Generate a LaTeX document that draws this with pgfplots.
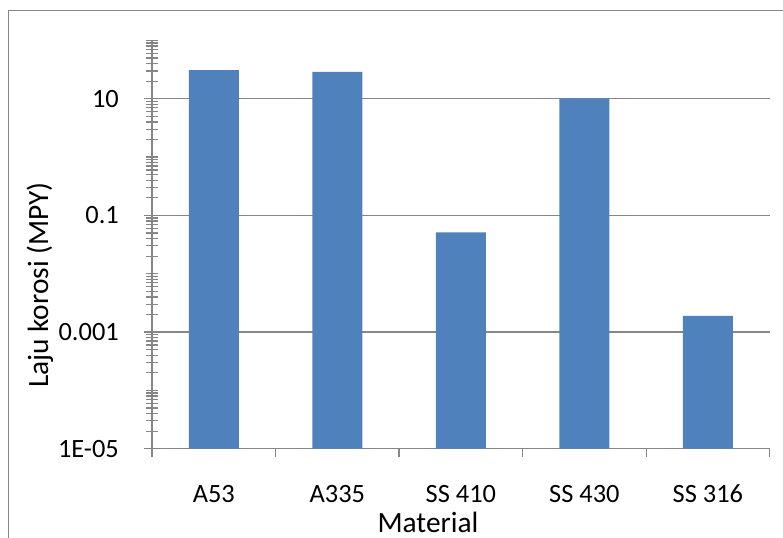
\documentclass[border=0pt]{standalone}
\usepackage{fontspec}
\setmainfont{Carlito}
\usepackage{pgfplots}
\pgfplotsset{compat=1.18}
\definecolor{barblue}{RGB}{79,129,189}
\definecolor{linegray}{RGB}{134,134,134}
\begin{document}
\begin{tikzpicture}
\path[use as bounding box] (0,0) rectangle (783bp,538bp);
\begin{scope}
\clip (0,0) rectangle (783bp,538bp);
\draw[linegray, line width=1.3bp] (8.3bp,-20bp) -- (8.3bp,527.3bp) -- (800bp,527.3bp);
\begin{axis}[
  at={(152bp,89.3bp)}, anchor=south west,
  scale only axis, width=617.7bp, height=408.3bp,
  ymode=log, log origin=infty,
  ymin=1e-5, ymax=100,
  xmin=0, xmax=5,
  axis lines*=left,
  axis line style={linegray, line width=1.2bp},
  ybar, bar width=50bp,
  xtick={0,1,2,3,4,5},
  xticklabels={A53,A335,SS 410,SS 430,SS 316,},
  xticklabel style={anchor=base, inner sep=0pt, xshift=61.77bp, yshift=-46.3bp, font=\fontsize{26.5}{30}\selectfont},
  ytick={1e-5,1e-3,0.1,10},
  yticklabels={1E-05,0.001,0.1,10},
  yticklabel style={anchor=east, inner sep=0pt, xshift=-25bp, font=\fontsize{26.5}{30}\selectfont},
  minor ytick={2e-5,3e-5,4e-5,5e-5,6e-5,7e-5,8e-5,9e-5,1e-4,2e-4,3e-4,4e-4,5e-4,6e-4,7e-4,8e-4,9e-4,2e-3,3e-3,4e-3,5e-3,6e-3,7e-3,8e-3,9e-3,1e-2,2e-2,3e-2,4e-2,5e-2,6e-2,7e-2,8e-2,9e-2,0.2,0.3,0.4,0.5,0.6,0.7,0.8,0.9,1,2,3,4,5,6,7,8,9,20,30,40,50,60,70,80,90,100},
  tick align=outside,
  major tick length=8bp, minor tick length=12bp,
  every minor y tick/.append style={xshift=6bp},
  tick style={linegray, line width=1.2bp},
  ymajorgrids,
  major grid style={linegray, line width=1.2bp},
  clip=false,
]
\addplot[fill=barblue, draw=none] coordinates {
  (0.5,31) (1.5,29) (2.5,0.051) (3.5,10.1) (4.5,0.0019)
};
\end{axis}
\node[rotate=90, anchor=base, inner sep=0pt, font=\fontsize{29.5}{34}\selectfont] at (48bp,253bp) {Laju korosi (MPY)};
\node[anchor=base, inner sep=0pt, font=\fontsize{29.5}{34}\selectfont] at (428bp,6bp) {Material};
\end{scope}
\end{tikzpicture}
\end{document}
